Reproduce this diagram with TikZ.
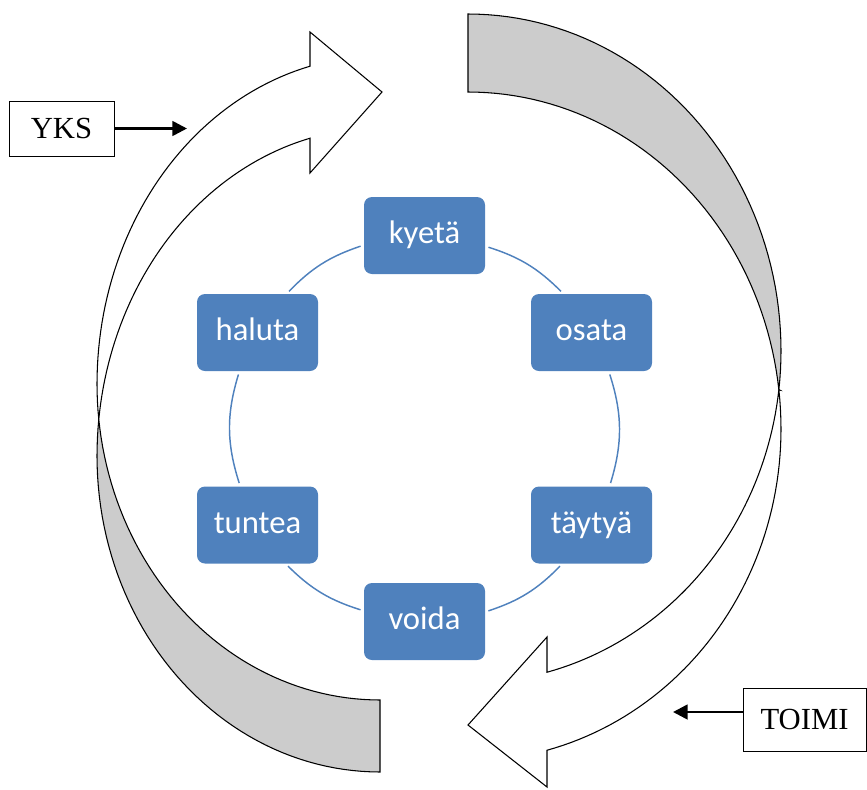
\documentclass[tikz,border=0pt]{standalone}
\usepackage{fontspec}
\setmainfont{Liberation Serif}
\newfontfamily\calib{Carlito}
\usetikzlibrary{arrows.meta}
\definecolor{boxblue}{RGB}{79,129,189}
\definecolor{backgrey}{RGB}{204,204,204}
\begin{document}
\begin{tikzpicture}[x=0.75pt,y=0.75pt,
  frontband/.style={draw=black, line width=0.8pt, fill=white, line join=miter},
  backband/.style={draw=black, line width=0.8pt, fill=backgrey},
  stepbox/.style={rectangle, rounded corners=6pt, fill=boxblue, text=white,
    minimum width=90.75pt, minimum height=57.75pt, inner sep=0pt,
    text height=17pt, text depth=5pt, font=\calib\fontsize{24.5}{28}\selectfont},
  labelbox/.style={rectangle, draw=black, line width=0.75pt, fill=white, inner sep=0pt,
    font=\fontsize{23}{27}\selectfont},
  pointer/.style={line width=2pt, -{Triangle[length=11pt,width=11pt]}},
  conn/.style={draw=boxblue, line width=1.1pt, shorten >=2.5pt, shorten <=2.5pt}]
\useasboundingbox (0,0) rectangle (867,-789);

% left curved arrow (YKS)
\path[backband] (98.8,-419.3)
  -- plot[domain=173.58:180, samples=5, variable=\t] ({380+283*cos(\t)},{-456+328*sin(\t)})
  -- plot[domain=180:270, samples=50, variable=\t] ({380+283*cos(\t)},{-456+316*sin(\t)})
  -- (380,-700)
  -- plot[domain=270:186.41, samples=50, variable=\t] ({380+283*cos(\t)},{-384+316*sin(\t)})
  -- cycle;
\path[frontband] (98.8,-419.3)
  -- plot[domain=186.41:180, samples=5, variable=\t] ({380+283*cos(\t)},{-384+316*sin(\t)})
  -- plot[domain=180:104.32, samples=50, variable=\t] ({380+283*cos(\t)},{-384+328*sin(\t)})
  -- (310,-32) -- (382,-92) -- (310,-173)
  -- plot[domain=104.32:173.58, samples=50, variable=\t] ({380+283*cos(\t)},{-456+328*sin(\t)})
  -- cycle;

% right curved arrow (TOIMI)
\path[backband] (778.9,-389.7)
  -- plot[domain=-6.69:0, samples=5, variable=\t] ({468+313*cos(\t)},{-351+332*sin(\t)})
  -- plot[domain=0:90, samples=50, variable=\t] ({468+313*cos(\t)},{-351+337*sin(\t)})
  -- (468,-92)
  -- plot[domain=90:6.70, samples=50, variable=\t] ({468+313*cos(\t)},{-429+337*sin(\t)})
  -- cycle;
\path[frontband] (778.9,-389.7)
  -- plot[domain=6.70:0, samples=5, variable=\t] ({468+313*cos(\t)},{-429+337*sin(\t)})
  -- plot[domain=0:-75.38, samples=50, variable=\t] ({468+313*cos(\t)},{-429+332*sin(\t)})
  -- (547,-787) -- (468,-725) -- (547,-637)
  -- plot[domain=-75.38:-6.69, samples=50, variable=\t] ({468+313*cos(\t)},{-351+332*sin(\t)})
  -- cycle;

% cycle of steps
\node[stepbox] (kyeta)  at (424.5,-235.5) {kyetä};
\node[stepbox] (osata)  at (591.5,-332.5) {osata};
\node[stepbox] (taytya) at (591.5,-525)   {täytyä};
\node[stepbox] (voida)  at (424.5,-621.5) {voida};
\node[stepbox] (tuntea) at (257.5,-525)   {tuntea};
\node[stepbox] (haluta) at (257.5,-332.5) {haluta};

\draw[conn] (kyeta.189.1)  to[bend right=13.8] (haluta.53.4);
\draw[conn] (haluta.245.9) to[bend right=17.4] (tuntea.114.3);
\draw[conn] (tuntea.306.6) to[bend right=13.8] (voida.170.9);
\draw[conn] (voida.9.1)    to[bend right=13.8] (taytya.233.4);
\draw[conn] (taytya.65.7)  to[bend right=17.4] (osata.294.1);
\draw[conn] (osata.126.6)  to[bend right=13.8] (kyeta.350.9);

% labels
\node[labelbox, minimum width=78.75pt, minimum height=41.25pt] (yks) at (61.5,-128.5) {YKS};
\coordinate (ykstip) at (187,-128.5);
\draw[pointer] (yks.east) -- (ykstip);

\node[labelbox, minimum width=92.25pt, minimum height=47.25pt] (toimi) at (804.5,-719.5) {TOIMI};
\coordinate (toimitip) at (673,-712);
\draw[pointer] (toimi.west |- toimitip) -- (toimitip);
\end{tikzpicture}
\end{document}
